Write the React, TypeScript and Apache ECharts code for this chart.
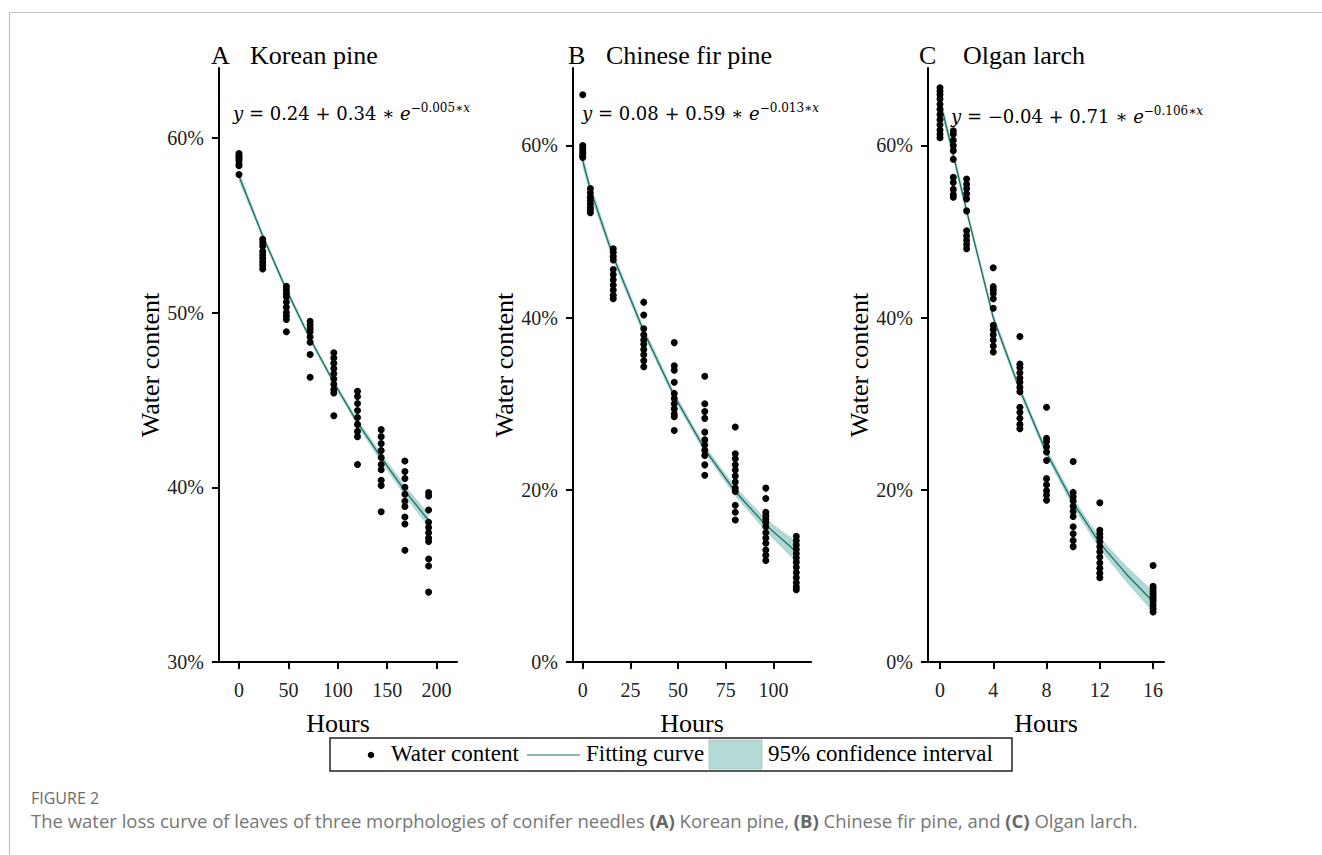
import React, { useEffect, useRef } from "react";
import * as echarts from "echarts";

// ---------- data (water content, %) ----------
const koreanHours = [0, 24, 48, 72, 96, 120, 144, 168, 192];
const koreanWater = [
  [59.1, 59.0, 58.9, 58.8, 58.7, 58.5, 58.4, 57.9],
  [54.2, 54.0, 53.8, 53.5, 53.3, 53.1, 52.9, 52.7, 52.5],
  [51.5, 51.3, 51.1, 50.9, 50.6, 50.3, 50.0, 49.8, 49.6, 48.9],
  [49.5, 49.3, 49.1, 48.9, 48.6, 48.3, 47.6, 46.3],
  [47.7, 47.4, 47.1, 46.8, 46.5, 46.2, 45.9, 45.6, 45.4, 44.1],
  [45.5, 45.2, 44.8, 44.4, 44.0, 43.6, 43.2, 42.9, 41.3],
  [43.3, 42.9, 42.5, 42.1, 41.7, 41.3, 41.0, 40.4, 40.1, 38.6],
  [41.5, 40.9, 40.5, 40.0, 39.6, 39.2, 38.9, 38.3, 37.9, 36.4],
  [39.7, 39.5, 38.7, 38.0, 37.7, 37.4, 37.1, 36.9, 35.9, 35.5, 34.0],
];
const koreanFitHours = [0, 24, 48, 72, 96, 120, 144, 168, 192];
const koreanFit = [57.8, 54.4, 51.3, 48.5, 46.0, 43.7, 41.7, 39.8, 38.1];
const koreanLower = [57.5, 54.2, 51.12, 48.32, 45.82, 43.5, 41.45, 39.5, 37.7];
const koreanUpper = [58.1, 54.6, 51.48, 48.68, 46.18, 43.9, 41.95, 40.1, 38.5];

const firHours = [0, 4, 16, 32, 48, 64, 80, 96, 112];
const firWater = [
  [65.9, 60.0, 59.7, 59.4, 59.1, 58.8, 58.6],
  [55.0, 54.5, 54.0, 53.6, 53.2, 52.8, 52.5, 52.2],
  [48.0, 47.6, 47.1, 46.7, 45.6, 45.0, 44.4, 43.8, 43.2, 42.6, 42.2],
  [41.8, 40.3, 38.7, 38.0, 37.4, 36.9, 36.3, 35.7, 35.0, 34.3],
  [37.1, 34.4, 33.9, 32.5, 31.2, 30.6, 30.0, 29.4, 28.8, 28.5, 26.9],
  [33.2, 30.0, 29.1, 28.3, 26.7, 25.8, 25.2, 24.6, 24.0, 22.9, 21.7],
  [27.3, 24.2, 23.6, 22.9, 22.3, 21.6, 20.9, 20.2, 19.8, 18.2, 17.4, 16.5],
  [20.2, 19.0, 17.4, 17.0, 16.6, 16.2, 15.7, 15.0, 14.4, 13.8, 13.0, 12.4, 11.8],
  [14.6, 14.1, 13.6, 13.1, 12.6, 12.1, 11.6, 11.0, 10.4, 9.8, 9.2, 8.7, 8.4],
];
const firFitHours = [0, 4, 16, 32, 48, 64, 80, 96, 112];
const firFit = [58.2, 54.9, 47.1, 38.4, 30.9, 24.7, 19.8, 15.9, 12.8];
const firLower = [57.4, 54.2, 46.55, 37.9, 30.45, 24.25, 19.25, 15.15, 11.6];
const firUpper = [59.0, 55.6, 47.65, 38.9, 31.35, 25.15, 20.35, 16.65, 14.0];

const larchHours = [0, 1, 2, 4, 6, 8, 10, 12, 16];
const larchWater = [
  [66.7, 66.3, 65.9, 65.4, 64.8, 64.2, 63.6, 63.0, 62.4, 61.8, 61.3, 60.9],
  [61.7, 61.3, 60.6, 60.0, 59.4, 58.4, 56.3, 55.7, 54.9, 54.3, 54.0],
  [56.1, 55.5, 55.0, 54.4, 53.8, 52.4, 50.1, 49.5, 49.0, 48.5, 48.0],
  [45.8, 43.6, 43.2, 42.8, 42.2, 41.1, 39.1, 38.6, 38.0, 37.4, 36.7, 36.0],
  [37.8, 34.6, 34.2, 33.6, 33.0, 32.5, 31.9, 31.4, 29.6, 29.0, 28.3, 27.6, 27.1],
  [29.6, 26.0, 25.6, 25.0, 24.4, 23.4, 21.3, 20.6, 19.9, 19.4, 18.8],
  [23.3, 19.7, 19.2, 18.7, 18.1, 17.5, 16.9, 15.7, 14.9, 14.1, 13.4],
  [18.5, 15.3, 14.9, 14.5, 14.0, 13.4, 12.8, 12.2, 11.5, 10.9, 10.3, 9.8],
  [11.2, 8.8, 8.5, 8.2, 7.9, 7.6, 7.3, 7.0, 6.6, 6.2, 5.8],
];
const larchFitHours = [0, 1, 2, 4, 6, 8, 10, 12, 14, 16];
const larchFit = [65.2, 58.9, 52.4, 40.0, 31.6, 24.3, 18.5, 13.8, 10.2, 7.0];
const larchLower = [64.4, 58.2, 51.8, 39.5, 31.1, 23.8, 17.95, 13.1, 9.25, 5.75];
const larchUpper = [66.0, 59.6, 53.0, 40.5, 32.1, 24.8, 19.05, 14.5, 11.15, 8.25];

const panelLetters = ["A", "B", "C"];
const panelTitles = ["Korean pine", "Chinese fir pine", "Olgan larch"];
const eqConst = ["0.24", "0.08", "\u22120.04"];
const eqAmp = ["0.34", "0.59", "0.71"];
const eqRate = ["\u22120.005\u2217", "\u22120.013\u2217", "\u22120.106\u2217"];

const xTicksA = [0, 50, 100, 150, 200];
const xTicksB = [0, 25, 50, 75, 100];
const xTicksC = [0, 4, 8, 12, 16];
const yTicksA = [30, 40, 50, 60];
const yTicksBC = [0, 20, 40, 60];

const legendLabels = ["Water content", "Fitting curve", "95% confidence interval"];
const captionHead = "FIGURE 2";

// ---------- styling ----------
const SERIF = '"Liberation Serif", "Times New Roman", serif';
const MATH = '"DejaVu Serif", "Liberation Serif", serif';
const SANS = '"Open Sans", "Noto Sans", sans-serif';
const LINE_COLOR = "#1d6d67";
const BAND_COLOR = "rgba(110, 184, 176, 0.55)";
const LEGEND_BAND = "#b5d9d6";

type Panel = {
  hours: number[];
  water: number[][];
  fitHours: number[];
  fit: number[];
  lower: number[];
  upper: number[];
  grid: { left: number; top: number; width: number; height: number };
  xMin: number;
  xMax: number;
  xTicks: number[];
  yMin: number;
  yMax: number;
  yTicks: number[];
};

const panels: Panel[] = [
  {
    hours: koreanHours, water: koreanWater, fitHours: koreanFitHours, fit: koreanFit,
    lower: koreanLower, upper: koreanUpper,
    grid: { left: 219, top: 68, width: 238, height: 594 },
    xMin: -20.25, xMax: 220.75, xTicks: xTicksA, yMin: 30, yMax: 64, yTicks: yTicksA,
  },
  {
    hours: firHours, water: firWater, fitHours: firFitHours, fit: firFit,
    lower: firLower, upper: firUpper,
    grid: { left: 573, top: 68, width: 238, height: 594 },
    xMin: -5.1, xMax: 119.7, xTicks: xTicksB, yMin: 0, yMax: 69, yTicks: yTicksBC,
  },
  {
    hours: larchHours, water: larchWater, fitHours: larchFitHours, fit: larchFit,
    lower: larchLower, upper: larchUpper,
    grid: { left: 928, top: 68, width: 236, height: 594 },
    xMin: -0.9, xMax: 16.82, xTicks: xTicksC, yMin: 0, yMax: 69, yTicks: yTicksBC,
  },
];

function buildOption() {
  const grids: any[] = [];
  const xAxes: any[] = [];
  const yAxes: any[] = [];
  const series: any[] = [];
  const graphics: any[] = [];

  panels.forEach((p, i) => {
    grids.push({ ...p.grid, containLabel: false });
    xAxes.push({
      type: "value",
      gridIndex: i,
      min: p.xMin,
      max: p.xMax,
      axisLine: { show: true, onZero: false, lineStyle: { color: "#000", width: 2 } },
      axisTick: { show: true, length: 7, customValues: p.xTicks, lineStyle: { color: "#000", width: 2 } },
      axisLabel: {
        customValues: p.xTicks,
        fontSize: 20,
        fontFamily: SERIF,
        color: "#222",
        margin: 18,
      },
      splitLine: { show: false },
      name: "Hours",
      nameLocation: "middle",
      nameGap: 48,
      nameTextStyle: { fontSize: 26, fontFamily: SERIF, color: "#000" },
    });
    yAxes.push({
      type: "value",
      gridIndex: i,
      min: p.yMin,
      max: p.yMax,
      axisLine: { show: true, onZero: false, lineStyle: { color: "#000", width: 2 } },
      axisTick: { show: true, length: 7, customValues: p.yTicks, lineStyle: { color: "#000", width: 2 } },
      axisLabel: {
        customValues: p.yTicks,
        fontSize: 20,
        fontFamily: SERIF,
        color: "#222",
        margin: 15,
        formatter: (v: number) => `${v}%`,
      },
      splitLine: { show: false },
      name: "Water content",
      nameLocation: "middle",
      nameRotate: 90,
      nameGap: 55,
      nameTextStyle: { fontSize: 26, fontFamily: SERIF, color: "#000" },
    });

    const pts: number[][] = [];
    p.hours.forEach((h, k) => p.water[k].forEach((w) => pts.push([h, w])));

    const fitHours = p.fitHours;
    const lower = p.lower;
    const upper = p.upper;
    series.push({
      type: "custom",
      name: "95% confidence interval",
      xAxisIndex: i,
      yAxisIndex: i,
      silent: true,
      z: 1,
      data: [[fitHours[0], p.fit[0]]],
      renderItem: (_params: any, api: any) => {
        const top = upper.map((v, k) => api.coord([fitHours[k], v]));
        const bot = lower.map((v, k) => api.coord([fitHours[k], v])).reverse();
        return {
          type: "polygon",
          shape: { points: top.concat(bot) },
          style: { fill: BAND_COLOR, stroke: "none" },
        };
      },
    });
    series.push({
      type: "line",
      name: "Fitting curve",
      xAxisIndex: i,
      yAxisIndex: i,
      data: fitHours.map((h, k) => [h, p.fit[k]]),
      showSymbol: false,
      symbol: "none",
      z: 2,
      lineStyle: { color: LINE_COLOR, width: 1.3 },
      silent: true,
    });
    series.push({
      type: "scatter",
      name: "Water content",
      xAxisIndex: i,
      yAxisIndex: i,
      data: pts,
      symbol: "circle",
      symbolSize: 7,
      z: 3,
      itemStyle: { color: "#000", opacity: 1 },
      silent: true,
    });
  });

  // frame lines
  graphics.push({
    type: "line",
    shape: { x1: 9, y1: 12.5, x2: 1322, y2: 12.5 },
    style: { stroke: "#c4c4c4", lineWidth: 1.2 },
  });
  graphics.push({
    type: "line",
    shape: { x1: 9.5, y1: 12, x2: 9.5, y2: 855 },
    style: { stroke: "#c4c4c4", lineWidth: 1.2 },
  });

  // panel titles
  const letterX = [211, 568, 919];
  const titleX = [250, 606, 963];
  panels.forEach((_p, i) => {
    graphics.push({
      type: "text",
      left: letterX[i],
      top: 42,
      style: { text: panelLetters[i], fontSize: 26, fontFamily: SERIF, fill: "#000" },
    });
    graphics.push({
      type: "text",
      left: titleX[i],
      top: 42,
      style: { text: panelTitles[i], fontSize: 26, fontFamily: SERIF, fill: "#000" },
    });
  });

  // equations
  const eqLeft = [233, 582, 951];
  const eqTop = [102, 102, 105];
  panels.forEach((_p, i) => {
    graphics.push({
      type: "text",
      left: eqLeft[i],
      top: eqTop[i],
      style: {
        text: `{i|y}{n| = ${eqConst[i]} + ${eqAmp[i]} \u2217 }{i|e}{s|${eqRate[i]}}{si|x}`,
        fill: "#000",
        rich: {
          i: { fontSize: 18, fontFamily: MATH, fontStyle: "italic", verticalAlign: "bottom", lineHeight: 20, fill: "#000" },
          n: { fontSize: 18, fontFamily: MATH, verticalAlign: "bottom", lineHeight: 20, fill: "#000" },
          s: { fontSize: 12, fontFamily: MATH, verticalAlign: "top", lineHeight: 12, fill: "#000" },
          si: { fontSize: 12, fontFamily: MATH, fontStyle: "italic", verticalAlign: "top", lineHeight: 12, fill: "#000" },
        },
      },
    });
  });

  // legend
  graphics.push({
    type: "rect",
    shape: { x: 330, y: 738, width: 682, height: 33 },
    style: { fill: "#fff", stroke: "#222", lineWidth: 1.5 },
    z: 10,
  });
  graphics.push({
    type: "circle",
    shape: { cx: 371, cy: 755, r: 3.3 },
    style: { fill: "#000" },
    z: 11,
  });
  graphics.push({
    type: "line",
    shape: { x1: 527, y1: 755, x2: 580, y2: 755 },
    style: { stroke: LINE_COLOR, lineWidth: 1.2 },
    z: 11,
  });
  graphics.push({
    type: "rect",
    shape: { x: 709, y: 740, width: 53, height: 29 },
    style: { fill: LEGEND_BAND, stroke: "#a9c9c6", lineWidth: 1 },
    z: 11,
  });
  const legendX = [391, 586, 768];
  legendLabels.forEach((t, k) => {
    graphics.push({
      type: "text",
      left: legendX[k],
      top: 742,
      z: 11,
      style: { text: t, fontSize: 23, fontFamily: SERIF, fill: "#000" },
    });
  });

  // caption
  graphics.push({
    type: "text",
    left: 31,
    top: 790,
    style: { text: captionHead, fontSize: 16, fontFamily: SANS, fill: "#6b6b6b" },
  });
  graphics.push({
    type: "text",
    left: 31,
    top: 811,
    style: {
      text:
        "{n|The water loss curve of leaves of three morphologies of conifer needles }{b|(A)}{n| Korean pine, }{b|(B)}{n| Chinese fir pine, and }{b|(C)}{n| Olgan larch.}",
      rich: {
        n: { fontSize: 18.5, fontFamily: SANS, fill: "#767676" },
        b: { fontSize: 18.5, fontFamily: SANS, fontWeight: "bold", fill: "#666" },
      },
    },
  });

  return {
    animation: false,
    backgroundColor: "#fff",
    grid: grids,
    xAxis: xAxes,
    yAxis: yAxes,
    series,
    graphic: { elements: graphics },
  };
}

export default function App() {
  const ref = useRef<HTMLDivElement>(null);
  useEffect(() => {
    if (!ref.current) return;
    const chart = echarts.init(ref.current, undefined, { renderer: "svg" });
    chart.setOption(buildOption() as any);
    return () => chart.dispose();
  }, []);
  return (
    <div
      ref={ref}
      style={{ position: "absolute", left: 0, top: 0, width: 1322, height: 855, background: "#fff" }}
    />
  );
}
